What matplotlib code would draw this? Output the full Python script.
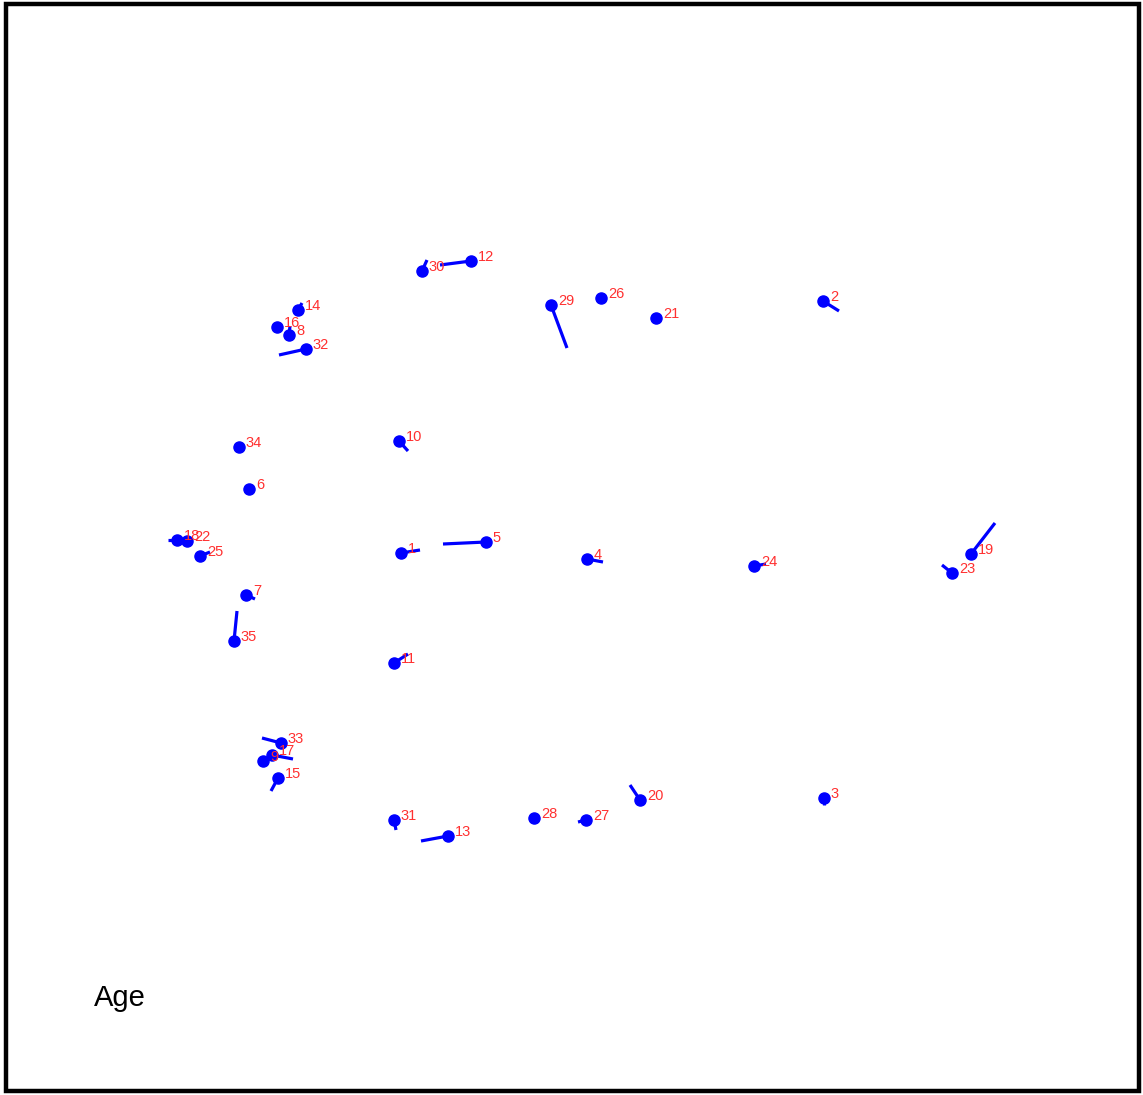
import matplotlib
matplotlib.use("Agg")
import matplotlib.pyplot as plt

# landmark ids, positions and vector end points (image units, y down)
ids = [1, 2, 3, 4, 5, 6, 7, 8, 9, 10, 11, 12, 13, 14, 15, 16, 17, 18,
       19, 20, 21, 22, 23, 24, 25, 26, 27, 28, 29, 30, 31, 32, 33, 34, 35]
x = [401, 823, 824, 587, 486, 249, 246, 289, 263, 399, 394, 471, 448, 298, 278, 277, 272, 177,
     971, 640, 656, 187, 952, 754, 200, 601, 586, 534, 551, 422, 394, 306, 281, 239, 234]
y = [553, 301, 798, 559, 542, 489, 595, 335, 761, 441, 663, 261, 836, 310, 778, 327, 755, 540,
     554, 800, 318, 541, 573, 566, 556, 298, 820, 818, 305, 271, 820, 349, 743, 447, 641]
x_end = [420, 839, 824, 603, 443, 250, 255, 290, 266, 408, 408, 440, 421, 302, 271, 278, 293, 168,
         995, 630, 657, 190, 942, 766, 210, 602, 578, 535, 567, 427, 396, 279, 262, 240, 237]
y_end = [550, 311, 805, 562, 544, 490, 599, 326, 758, 451, 654, 265, 841, 303, 791, 332, 759, 540,
         523, 785, 319, 540, 565, 564, 552, 299, 822, 819, 348, 260, 830, 355, 738, 452, 611]

W, H = 1143, 1095
fig = plt.figure(figsize=(W / 100, H / 100), dpi=100)
ax = fig.add_axes([0, 0, 1, 1])
ax.set_xlim(0, W)
ax.set_ylim(H, 0)
ax.axis("off")

for i in range(len(ids)):
    ax.plot([x[i], x_end[i]], [y[i], y_end[i]], color="blue", lw=2.3, solid_capstyle="butt", zorder=2)
ax.plot(x, y, "o", color="blue", ms=8, mec="blue", zorder=3)

for i in range(len(ids)):
    ax.annotate(str(ids[i]), (x[i], y[i]), xytext=(5, 3), textcoords="offset points",
                color="#ff3030", fontsize=10.5, family="Liberation Sans",
                ha="left", va="center", zorder=4)

ax.text(94, 1006, "Age", fontsize=21, family="Liberation Sans", ha="left", va="baseline")

border = plt.Rectangle((6, 4), 1133, 1087, fill=False, ec="black", lw=3.2)
ax.add_patch(border)

fig.savefig("out.png", dpi=100)
